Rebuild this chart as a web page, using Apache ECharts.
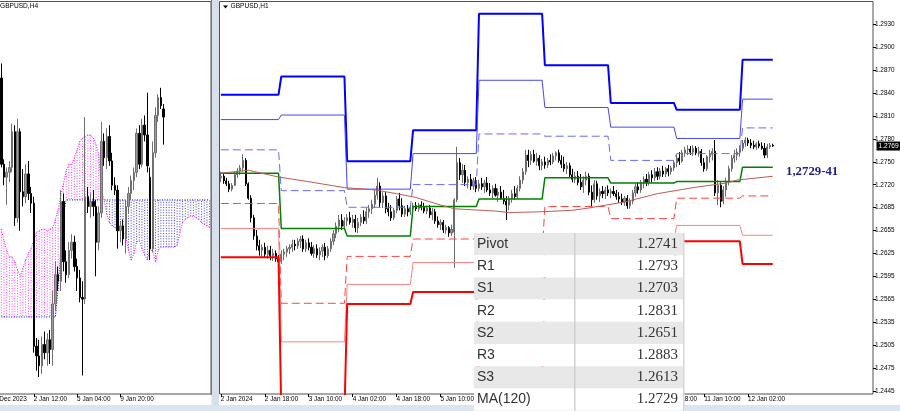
<!DOCTYPE html>
<html><head><meta charset="utf-8">
<script src="https://cdn.jsdelivr.net/npm/echarts@6/dist/echarts.min.js"></script>
<style>html,body{margin:0;padding:0;background:#fff}#c{width:900px;height:411px}</style>
</head><body><div id="c"></div>
<script>
// ================= DATA =================
// ---- H1 panel (right): candles [open, high, low, close] per trading day ----
const h1Day1 = [ // 2 Jan
[1.2727,1.2735,1.2721,1.2729],[1.2729,1.2732,1.2719,1.2723],[1.2723,1.2727,1.2716,1.2719],[1.2719,1.2723,1.2708,1.2712],
[1.2712,1.2720,1.2709,1.2717],[1.2717,1.2735,1.2716,1.2731],[1.2731,1.2740,1.2727,1.2736],[1.2736,1.2744,1.2731,1.2740],
[1.2740,1.2758,1.2735,1.2750],[1.2750,1.2753,1.2716,1.2719],[1.2719,1.2721,1.2698,1.2700],[1.2700,1.2704,1.2668,1.2674],
[1.2674,1.2678,1.2645,1.2650],[1.2650,1.2658,1.2631,1.2637],[1.2637,1.2645,1.2624,1.2631],[1.2631,1.2639,1.2622,1.2635],
[1.2635,1.2641,1.2621,1.2626],[1.2626,1.2637,1.2620,1.2631],[1.2631,1.2637,1.2618,1.2624],[1.2624,1.2633,1.2617,1.2627],
[1.2627,1.2631,1.2616,1.2620],[1.2620,1.2625,1.2612,1.2616]];
const h1Day2 = [ // 3 Jan
[1.2616,1.2631,1.2613,1.2626],[1.2626,1.2633,1.2618,1.2629],[1.2629,1.2637,1.2622,1.2633],[1.2633,1.2639,1.2626,1.2635],
[1.2635,1.2645,1.2629,1.2639],[1.2639,1.2645,1.2631,1.2637],[1.2637,1.2647,1.2633,1.2643],[1.2643,1.2650,1.2634,1.2646],
[1.2646,1.2651,1.2629,1.2633],[1.2633,1.2645,1.2629,1.2641],[1.2641,1.2647,1.2631,1.2635],[1.2635,1.2642,1.2624,1.2627],
[1.2627,1.2638,1.2621,1.2633],[1.2633,1.2639,1.2621,1.2625],[1.2625,1.2635,1.2618,1.2630],[1.2630,1.2639,1.2622,1.2635],
[1.2635,1.2641,1.2618,1.2624],[1.2624,1.2637,1.2621,1.2633],[1.2633,1.2647,1.2629,1.2643],[1.2643,1.2658,1.2638,1.2653],
[1.2653,1.2668,1.2647,1.2663],[1.2663,1.2678,1.2655,1.2671],[1.2671,1.2679,1.2658,1.2663],[1.2663,1.2675,1.2659,1.2670]];
const h1Day3 = [ // 4 Jan
[1.2670,1.2679,1.2663,1.2674],[1.2674,1.2682,1.2665,1.2668],[1.2668,1.2678,1.2661,1.2672],[1.2672,1.2678,1.2655,1.2661],
[1.2661,1.2674,1.2654,1.2668],[1.2668,1.2679,1.2663,1.2675],[1.2675,1.2684,1.2666,1.2670],[1.2670,1.2687,1.2666,1.2682],
[1.2682,1.2691,1.2674,1.2686],[1.2686,1.2698,1.2679,1.2692],[1.2692,1.2711,1.2687,1.2704],[1.2704,1.2727,1.2698,1.2716],
[1.2716,1.2721,1.2688,1.2694],[1.2694,1.2708,1.2687,1.2703],[1.2703,1.2708,1.2680,1.2686],[1.2686,1.2694,1.2676,1.2682],
[1.2682,1.2691,1.2670,1.2674],[1.2674,1.2687,1.2671,1.2684],[1.2684,1.2703,1.2680,1.2699],[1.2699,1.2707,1.2684,1.2690],
[1.2690,1.2700,1.2675,1.2679],[1.2679,1.2690,1.2675,1.2686],[1.2686,1.2691,1.2676,1.2682],[1.2682,1.2690,1.2678,1.2687]];
const h1Day4 = [ // 5 Jan
[1.2687,1.2694,1.2682,1.2690],[1.2690,1.2695,1.2683,1.2686],[1.2686,1.2694,1.2682,1.2691],[1.2691,1.2696,1.2684,1.2688],
[1.2688,1.2694,1.2680,1.2683],[1.2683,1.2690,1.2679,1.2687],[1.2687,1.2691,1.2674,1.2678],[1.2678,1.2687,1.2671,1.2682],
[1.2682,1.2686,1.2666,1.2670],[1.2670,1.2676,1.2661,1.2665],[1.2665,1.2672,1.2658,1.2668],[1.2668,1.2671,1.2654,1.2658],
[1.2658,1.2665,1.2653,1.2661],[1.2661,1.2663,1.2649,1.2654],[1.2654,1.2665,1.2650,1.2659],[1.2655,1.2700,1.2608,1.2698],
[1.2698,1.2768,1.2695,1.2747],[1.2747,1.2753,1.2724,1.2731],[1.2731,1.2745,1.2720,1.2737],[1.2737,1.2744,1.2716,1.2721],
[1.2721,1.2729,1.2713,1.2725],[1.2725,1.2732,1.2711,1.2716],[1.2716,1.2727,1.2711,1.2723],[1.2723,1.2728,1.2708,1.2713]];
const h1Day5 = [ // 8 Jan
[1.2713,1.2724,1.2709,1.2719],[1.2719,1.2727,1.2711,1.2715],[1.2715,1.2724,1.2707,1.2720],[1.2720,1.2728,1.2708,1.2711],
[1.2711,1.2720,1.2703,1.2707],[1.2707,1.2717,1.2700,1.2713],[1.2713,1.2719,1.2702,1.2704],[1.2704,1.2713,1.2695,1.2708],
[1.2708,1.2716,1.2698,1.2700],[1.2700,1.2711,1.2692,1.2696],[1.2696,1.2703,1.2671,1.2691],[1.2691,1.2703,1.2684,1.2699],
[1.2699,1.2711,1.2694,1.2706],[1.2706,1.2716,1.2698,1.2702],[1.2702,1.2717,1.2699,1.2713],[1.2713,1.2729,1.2709,1.2724],
[1.2724,1.2740,1.2719,1.2735],[1.2735,1.2764,1.2731,1.2757],[1.2757,1.2764,1.2741,1.2750],[1.2750,1.2762,1.2744,1.2758],
[1.2758,1.2764,1.2747,1.2749],[1.2749,1.2760,1.2743,1.2753],[1.2753,1.2757,1.2737,1.2743],[1.2743,1.2752,1.2737,1.2748]];
const h1Day6 = [ // 9 Jan
[1.2748,1.2755,1.2739,1.2744],[1.2744,1.2753,1.2740,1.2750],[1.2750,1.2758,1.2744,1.2748],[1.2748,1.2760,1.2745,1.2756],
[1.2756,1.2762,1.2750,1.2760],[1.2760,1.2764,1.2747,1.2750],[1.2750,1.2757,1.2740,1.2745],[1.2745,1.2755,1.2735,1.2739],
[1.2739,1.2748,1.2732,1.2743],[1.2743,1.2747,1.2727,1.2731],[1.2731,1.2739,1.2721,1.2725],[1.2725,1.2735,1.2720,1.2729],
[1.2729,1.2736,1.2717,1.2721],[1.2721,1.2732,1.2711,1.2715],[1.2715,1.2729,1.2707,1.2724],[1.2724,1.2735,1.2717,1.2729],
[1.2729,1.2733,1.2704,1.2708],[1.2708,1.2717,1.2688,1.2698],[1.2698,1.2724,1.2694,1.2719],[1.2719,1.2723,1.2698,1.2703],
[1.2703,1.2713,1.2695,1.2709],[1.2709,1.2716,1.2700,1.2706],[1.2706,1.2715,1.2699,1.2711],[1.2711,1.2717,1.2703,1.2707]];
const h1Day7 = [ // 10 Jan
[1.2707,1.2713,1.2700,1.2709],[1.2709,1.2716,1.2703,1.2706],[1.2706,1.2711,1.2698,1.2702],[1.2702,1.2708,1.2694,1.2699],
[1.2699,1.2706,1.2691,1.2695],[1.2695,1.2703,1.2690,1.2700],[1.2700,1.2704,1.2686,1.2690],[1.2690,1.2700,1.2686,1.2696],
[1.2696,1.2711,1.2692,1.2707],[1.2707,1.2719,1.2702,1.2715],[1.2715,1.2721,1.2706,1.2711],[1.2711,1.2724,1.2707,1.2720],
[1.2720,1.2729,1.2713,1.2725],[1.2725,1.2732,1.2716,1.2721],[1.2721,1.2735,1.2717,1.2731],[1.2731,1.2737,1.2721,1.2727],
[1.2727,1.2740,1.2723,1.2735],[1.2735,1.2741,1.2724,1.2729],[1.2729,1.2740,1.2725,1.2736],[1.2736,1.2743,1.2728,1.2732],
[1.2732,1.2741,1.2728,1.2739],[1.2739,1.2744,1.2729,1.2735],[1.2735,1.2743,1.2731,1.2740],[1.2740,1.2750,1.2736,1.2747]];
const h1Day8 = [ // 11 Jan
[1.2747,1.2757,1.2741,1.2753],[1.2753,1.2761,1.2744,1.2749],[1.2749,1.2764,1.2747,1.2760],[1.2760,1.2768,1.2755,1.2764],
[1.2764,1.2770,1.2757,1.2765],[1.2765,1.2769,1.2757,1.2761],[1.2761,1.2770,1.2756,1.2766],[1.2766,1.2769,1.2757,1.2760],
[1.2760,1.2768,1.2755,1.2762],[1.2762,1.2765,1.2743,1.2747],[1.2747,1.2753,1.2735,1.2739],[1.2739,1.2757,1.2736,1.2755],
[1.2755,1.2764,1.2747,1.2758],[1.2758,1.2766,1.2750,1.2762],[1.2762,1.2777,1.2703,1.2707],[1.2707,1.2724,1.2691,1.2717],
[1.2717,1.2721,1.2688,1.2696],[1.2696,1.2716,1.2692,1.2711],[1.2711,1.2727,1.2702,1.2721],[1.2721,1.2743,1.2717,1.2739],
[1.2739,1.2757,1.2735,1.2753],[1.2753,1.2764,1.2747,1.2757],[1.2757,1.2766,1.2750,1.2761],[1.2761,1.2770,1.2755,1.2766]];
const h1Day9 = [ // 12 Jan
[1.2766,1.2777,1.2762,1.2773],[1.2773,1.2781,1.2768,1.2777],[1.2777,1.2780,1.2769,1.2773],[1.2773,1.2778,1.2766,1.2770],
[1.2770,1.2776,1.2765,1.2768],[1.2768,1.2774,1.2764,1.2772],[1.2772,1.2776,1.2766,1.2769],[1.2769,1.2774,1.2764,1.2766],
[1.2766,1.2773,1.2753,1.2757],[1.2757,1.2772,1.2753,1.2768],[1.2768,1.2773,1.2765,1.2770],[1.2770,1.2772,1.2768,1.2769]];

// daily pivot levels (one value per day) and first bar of each day
const dayStartBar = [0,22,46,70,94,118,142,166,190];
const lastBar = 201;
const levelR3 = [1.2837,1.2861,1.2749,1.2790,1.2944,1.2876,1.2826,1.2817,1.2883];
const levelR2 = [1.2804,1.2810,1.2712,1.2759,1.2856,1.2820,1.2794,1.2779,1.2831];
const levelR1 = [1.2764,1.2710,1.2688,1.2718,1.2785,1.2782,1.2750,1.2759,1.2793];
const levelPP = [1.2733,1.2660,1.2650,1.2689,1.2699,1.2727,1.2720,1.2722,1.2741];
const levelS1 = [1.2693,1.2561,1.2623,1.2646,1.2627,1.2689,1.2673,1.2700,1.2703];
const levelS2 = [1.2660,1.2510,1.2586,1.2615,1.2539,1.2634,1.2644,1.2664,1.2651];
const levelS3 = [1.2622,1.2416,1.2560,1.2576,1.2467,1.2597,1.2600,1.2643,1.2613];

// MA(120) read at bar positions [bar, value]
const ma120 = [[0,1.2733],[10,1.2737],[21,1.2728],[30,1.2723],[45,1.2714],[56,1.2711],[64,1.2706],[71,1.2701],
[80,1.2691],[85,1.2686],[100,1.2683],[105,1.2681],[116,1.2682],[128,1.2684],[134,1.2687],[147,1.2695],
[159,1.2706],[172,1.2714],[184,1.2720],[188,1.2724],[201,1.2729]];

const h1BarCount = 238;
const h1TickBars = [0,16,32,48,64,80,96,112,128,144,160,176,192];
const h1TickLabels = ['2 Jan 2024','2 Jan 18:00','3 Jan 10:00','4 Jan 02:00','4 Jan 18:00','5 Jan 10:00','8 Jan 02:00',
  '8 Jan 18:00','9 Jan 10:00','10 Jan 02:00','10 Jan 18:00','11 Jan 10:00','12 Jan 02:00'];
const priceTickValues = [1.24450,1.24753,1.25056,1.25359,1.25663,1.25966,1.26269,1.26572,1.26875,1.27178,
  1.27481,1.27784,1.28088,1.28391,1.28694,1.28997,1.29300];
const priceTickLabels = ['1.2445','1.2475','1.2505','1.2535','1.2565','1.2595','1.2625','1.2655','1.2685','1.2720',
  '1.2750','1.2780','1.2810','1.2840','1.2870','1.2900','1.2930'];
const h1Range = [1.24410, 1.29602];
const currentPrice = 1.2769;

const tableNames = ['Pivot','R1','S1','R2','S2','R3','S3','MA(120)'];
const tableValues = ['1.2741','1.2793','1.2703','1.2831','1.2651','1.2883','1.2613','1.2729'];
const zoneNote = '1,2729-41';

// ---- H4 panel (left) ----
const h4Candles = [
[1.2791,1.2800,1.2736,1.2738],[1.2738,1.2741,1.2725,1.2730],[1.2730,1.2736,1.2713,1.2733],[1.2733,1.2740,1.2727,1.2736],
[1.2736,1.2763,1.2733,1.2758],[1.2758,1.2762,1.2700,1.2705],[1.2705,1.2766,1.2702,1.2758],[1.2758,1.2760,1.2697,1.2721],
[1.2721,1.2735,1.2712,1.2718],[1.2718,1.2738,1.2714,1.2732],[1.2732,1.2740,1.2716,1.2720],[1.2720,1.2724,1.2708,1.2714],
[1.2714,1.2718,1.2622,1.2626],[1.2626,1.2631,1.2611,1.2620],[1.2620,1.2630,1.2607,1.2614],[1.2614,1.2632,1.2609,1.2627],
[1.2627,1.2635,1.2618,1.2622],[1.2622,1.2634,1.2614,1.2630],[1.2630,1.2636,1.2615,1.2624],[1.2624,1.2660,1.2614,1.2652],
[1.2652,1.2678,1.2648,1.2670],[1.2670,1.2675,1.2660,1.2666],[1.2666,1.2722,1.2660,1.2715],[1.2715,1.2720,1.2672,1.2678],
[1.2678,1.2685,1.2665,1.2670],[1.2670,1.2690,1.2668,1.2685],[1.2685,1.2695,1.2680,1.2690],[1.2690,1.2694,1.2672,1.2675],
[1.2675,1.2680,1.2660,1.2668],[1.2668,1.2673,1.2653,1.2656],[1.2656,1.2666,1.2608,1.2655],[1.2655,1.2767,1.2652,1.2718],
[1.2718,1.2724,1.2708,1.2712],[1.2712,1.2720,1.2705,1.2715],[1.2715,1.2722,1.2706,1.2712],[1.2712,1.2716,1.2669,1.2690],
[1.2690,1.2712,1.2685,1.2708],[1.2708,1.2764,1.2705,1.2752],[1.2752,1.2757,1.2737,1.2742],[1.2742,1.2760,1.2735,1.2755],
[1.2755,1.2762,1.2737,1.2740],[1.2740,1.2745,1.2722,1.2725],[1.2725,1.2730,1.2719,1.2722],[1.2722,1.2725,1.2686,1.2697],
[1.2697,1.2703,1.2690,1.2700],[1.2700,1.2704,1.2688,1.2692],[1.2692,1.2716,1.2683,1.2712],[1.2712,1.2724,1.2708,1.2720],
[1.2720,1.2731,1.2716,1.2728],[1.2728,1.2736,1.2722,1.2733],[1.2733,1.2760,1.2730,1.2757],[1.2757,1.2762,1.2735,1.2738],
[1.2738,1.2766,1.2736,1.2762],[1.2762,1.2768,1.2752,1.2756],[1.2756,1.2782,1.2733,1.2737],[1.2730,1.2736,1.2679,1.2686],
[1.2686,1.2752,1.2684,1.2745],[1.2745,1.2773,1.2742,1.2768],[1.2768,1.2781,1.2764,1.2779],[1.2779,1.2785,1.2772,1.2774],
[1.2772,1.2775,1.2750,1.2767]];
const ichimokuSpanA = [1.2698,1.2691,1.2685,1.2681,1.2681,1.2678,1.2673,1.2669,1.2674,1.2679,
 1.2683,1.2686,1.2691,1.2696,1.2697,1.2698,1.2698,1.2697,1.2698,1.2699,
 1.2704,1.2710,1.2719,1.2726,1.2734,1.2738,1.2738,1.2742,1.2747,1.2752,
 1.2754,1.2755,1.2756,1.2756,1.2754,1.2750,1.2744,1.2722,1.2716,1.2707,
 1.2702,1.2700,1.2699,1.2698,1.2699,1.2696,1.2694,1.2685,1.2679,1.2683,
 1.2690,1.2691,1.2686,1.2682,1.2679,1.2686,1.2684,1.2678,1.2685,1.2687,
 1.2687,1.2687,1.2687,1.2687,1.2687,1.2688,1.2696,1.2702,1.2704,1.2705,
 1.2706,1.2706,1.2705,1.2704,1.2702,1.2701,1.2700,1.2699];
const ichimokuSpanB = [1.2644,1.2644,1.2644,1.2644,1.2644,1.2644,1.2644,1.2644,1.2644,1.2644,
 1.2644,1.2644,1.2644,1.2644,1.2644,1.2644,1.2644,1.2644,1.2644,1.2644,
 1.2644,1.2661,1.2685,1.2707,1.2716,1.2716,1.2716,1.2716,1.2716,1.2716,
 1.2716,1.2716,1.2716,1.2716,1.2716,1.2716,1.2716,1.2716,1.2716,1.2716,
 1.2716,1.2716,1.2716,1.2716,1.2716,1.2716,1.2716,1.2716,1.2716,1.2716,
 1.2716,1.2716,1.2716,1.2716,1.2716,1.2716,1.2716,1.2716,1.2716,1.2716,
 1.2716,1.2716,1.2716,1.2716,1.2716,1.2716,1.2716,1.2716,1.2716,1.2716,
 1.2716,1.2716,1.2716,1.2716,1.2716,1.2716,1.2716,1.2716];
const h4LeadBars = 4;      // bars before the first drawn candle (label '29 Dec 2023')
const h4BarCount = 82;
const h4TickBars = [0,16,32,48];
const h4TickLabels = ['29 Dec 2023','2 Jan 12:00','5 Jan 04:00','9 Jan 20:00'];
const h4Range = [1.25966, 1.28381];

// ================= BUILD =================
const FONT = 'Liberation Sans';
const h1Candles = [].concat(h1Day1,h1Day2,h1Day3,h1Day4,h1Day5,h1Day6,h1Day7,h1Day8,h1Day9);
const h1Cats = Array.from({length:h1BarCount},(_,i)=>String(i));
const h4Cats = Array.from({length:h4BarCount},(_,i)=>String(i));
const toEC = c => [c[0],c[3],c[2],c[1]];
const h1Data = h1Candles.map(toEC);
const h4Data = h4Cats.map((_,i)=>{const c=h4Candles[i-h4LeadBars];return c?toEC(c):'-';});
const cloudData = ichimokuSpanA.map((a,k)=>[k+h4LeadBars,a,ichimokuSpanB[k]]);

function levelPairs(levels){
  const out=[];
  levels.forEach((v,d)=>{
    const s=dayStartBar[d], e=(d+1<dayStartBar.length?dayStartBar[d+1]-1:lastBar);
    out.push([s,v]); out.push([e,v]);
  });
  return out;
}
function lineSeries(name,levels,color,width,type){
  return {name,type:'line',xAxisIndex:1,yAxisIndex:1,data:levelPairs(levels),symbol:'none',z:4,
    silent:true,clip:true,lineStyle:{color,width,type:type||'solid'},animation:false};
}
const tickIdx = (bars)=> (i)=> bars.indexOf(i)>=0;
function labelFor(bars,labels){return (v,i)=>{const k=bars.indexOf(i);return k>=0?labels[k]:'';};}

const chart = echarts.init(document.getElementById('c'));
const axisTxt = {fontFamily:FONT,fontSize:6.4,color:'#000'};

// table overlay (top layer)
const TX=474, TY=233, rowH=22.2, tW=209;
const tableEls=[];
tableNames.forEach((n,r)=>{
  tableEls.push({type:'rect',zlevel:5,z:1,shape:{x:TX,y:TY+r*rowH,width:tW,height:rowH},style:{fill:r%2===0?'#e8e8e8':'#ffffff'}});
  tableEls.push({type:'text',zlevel:5,z:3,x:TX+3,y:TY+r*rowH+rowH/2,style:{text:n,fontFamily:FONT,fontSize:14,fill:'#333',verticalAlign:'middle',align:'left'}});
  tableEls.push({type:'text',zlevel:5,z:3,x:TX+tW-5,y:TY+r*rowH+rowH/2,style:{text:tableValues[r],fontFamily:'Liberation Sans Narrow',fontSize:15,fill:'#333',verticalAlign:'middle',align:'right'}});
});
tableEls.push({type:'rect',zlevel:5,z:2,shape:{x:TX+100,y:TY,width:1.5,height:rowH*8},style:{fill:'#cfcfcf'}});
tableEls.push({type:'rect',zlevel:5,z:2,shape:{x:TX+tW,y:TY,width:1.5,height:rowH*8},style:{fill:'#d6d6d6'}});

const option = {
  animation:false,
  backgroundColor:'#ffffff',
  grid:[
    {left:-10.9,width:221.9,top:1.5,height:392.5,show:true,borderColor:'#505050',borderWidth:1,backgroundColor:'#fff',containLabel:false,outerBoundsMode:'none'},
    {left:219.5,width:653.5,top:1.5,height:392.5,show:true,borderColor:'#505050',borderWidth:1,backgroundColor:'#fff',containLabel:false,outerBoundsMode:'none'}
  ],
  xAxis:[
    {gridIndex:0,type:'category',data:h4Cats,boundaryGap:true,axisLine:{show:false},
     axisTick:{show:true,alignWithLabel:true,interval:tickIdx(h4TickBars),length:3,lineStyle:{color:'#000'}},
     axisLabel:Object.assign({interval:0,formatter:labelFor(h4TickBars,h4TickLabels),align:'left',margin:2,hideOverlap:false},axisTxt),
     splitLine:{show:false}},
    {gridIndex:1,type:'category',data:h1Cats,boundaryGap:true,axisLine:{show:false},
     axisTick:{show:true,alignWithLabel:true,interval:tickIdx(h1TickBars),length:3,lineStyle:{color:'#000'}},
     axisLabel:Object.assign({interval:0,formatter:labelFor(h1TickBars,h1TickLabels),align:'left',margin:2,hideOverlap:false},axisTxt),
     splitLine:{show:false}}
  ],
  yAxis:[
    {gridIndex:0,type:'value',min:h4Range[0],max:h4Range[1],show:false,splitLine:{show:false}},
    {gridIndex:1,type:'value',position:'right',min:h1Range[0],max:h1Range[1],
     axisLine:{show:false},splitLine:{show:false},
     axisTick:{show:true,length:3,customValues:priceTickValues,lineStyle:{color:'#000'}},
     axisLabel:Object.assign({customValues:priceTickValues,margin:2,hideOverlap:false,formatter:(v)=>{
       let best=0,bd=1;priceTickValues.forEach((t,i)=>{const d=Math.abs(t-v);if(d<bd){bd=d;best=i;}});return priceTickLabels[best];}},axisTxt)}
  ],
  series:[
    {type:'custom',xAxisIndex:0,yAxisIndex:0,data:cloudData,encode:{x:0,y:[1,2]},clip:true,silent:true,z:1,
     renderItem:(params,api)=>{
       const x=api.value(0),a=api.value(1),b=api.value(2);
       const p1=api.coord([x,a]),p2=api.coord([x,b]);
       return {type:'line',shape:{x1:p1[0],y1:p1[1],x2:p2[0],y2:p2[1]},
         style:{stroke:a>=b?'#f03cf0':'#3c3cff',lineWidth:1,lineDash:[1,1.6]}};
     }},
    {type:'line',xAxisIndex:0,yAxisIndex:0,data:ichimokuSpanA.map((v,k)=>[k+h4LeadBars,v]),symbol:'none',z:2,silent:true,
     lineStyle:{color:'#ff00ff',width:1,type:[1,1.5]}},
    {type:'line',xAxisIndex:0,yAxisIndex:0,data:ichimokuSpanB.map((v,k)=>[k+h4LeadBars,v]),symbol:'none',z:2,silent:true,
     lineStyle:{color:'#0000ff',width:1,type:[1,1.5]}},
    {type:'candlestick',xAxisIndex:0,yAxisIndex:0,data:h4Data,barWidth:2,z:3,silent:true,
     itemStyle:{color:'#9a9a9a',color0:'#000',borderColor:'#707070',borderColor0:'#000',borderWidth:1}},
    {type:'candlestick',xAxisIndex:1,yAxisIndex:1,data:h1Data,barWidth:1.6,z:3,silent:true,
     itemStyle:{color:'#a0a0a0',color0:'#000',borderColor:'#6c6c6c',borderColor0:'#000',borderWidth:1}},
    lineSeries('R3',levelR3,'#0000ff',2),
    lineSeries('R2',levelR2,'#4545ff',1),
    lineSeries('R1',levelR1,'#6a6aff',1,[8,4]),
    lineSeries('Pivot',levelPP,'#008000',1.5),
    lineSeries('S1',levelS1,'#ff4545',1,[8,4]),
    lineSeries('S2',levelS2,'#ff8080',1),
    lineSeries('S3',levelS3,'#ff0000',2),
    {name:'MA120',type:'line',xAxisIndex:1,yAxisIndex:1,data:ma120,symbol:'none',z:4,silent:true,
     lineStyle:{color:'#c05a55',width:1}}
  ],
  graphic:[
    {type:'rect',left:211.5,top:0,shape:{width:7.5,height:411},style:{fill:'#d6dfea'},z:100},
    {type:'rect',left:211,top:0,shape:{width:1,height:395},style:{fill:'#6c7a8c'},z:100},
    {type:'rect',left:0,top:405,shape:{width:900,height:6},style:{fill:'#dbe4ef'},z:100},
    {type:'text',left:0,top:3,style:{text:'GBPUSD,H4',fontFamily:FONT,fontSize:6.6,fill:'#000'},z:100},
    {type:'polygon',shape:{points:[[223,5.5],[228,5.5],[225.5,8.5]]},style:{fill:'#000'},z:100},
    {type:'text',left:230.5,top:3,style:{text:'GBPUSD,H1',fontFamily:FONT,fontSize:6.6,fill:'#000'},z:100},
    {type:'text',left:786,top:165,style:{text:zoneNote,fontFamily:'Liberation Serif',fontWeight:'bold',fontSize:12.8,fill:'#1f1f8c'},z:100}
  ].concat(tableEls)
};
chart.setOption(option);

// current-price tag on the price scale, placed through the axis scale
const py = chart.convertToPixel({yAxisIndex:1}, currentPrice);
const gridRight = 219.5 + 653.5;
option.graphic.push({type:'text',x:gridRight+3.5,y:py,zlevel:1,
  style:{text:currentPrice.toFixed(4),fontFamily:FONT,fontSize:6.6,fill:'#fff',backgroundColor:'#000',
    padding:[1,2,1,2],verticalAlign:'middle',align:'left'}});
chart.setOption({graphic:option.graphic});
</script></body></html>
